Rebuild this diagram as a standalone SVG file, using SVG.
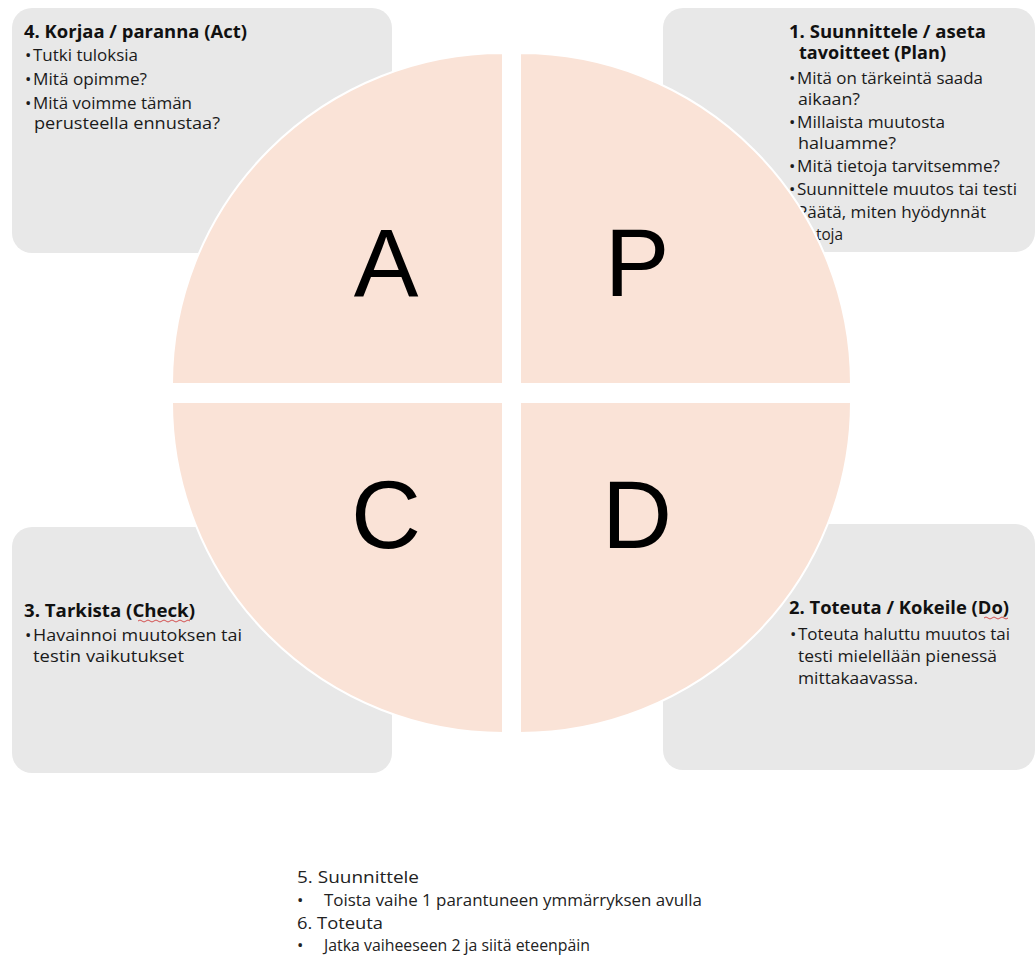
<svg xmlns="http://www.w3.org/2000/svg" width="1036" height="956" viewBox="0 0 1036 956">
<style>
.box{fill:#e8e8e8}
.t{font-family:"Open Sans","Liberation Sans",sans-serif;font-size:17px;fill:#1a1a1a}
.h{font-family:"Open Sans","Liberation Sans",sans-serif;font-size:18px;font-weight:700;fill:#111}
.q{fill:#fae3d7;stroke:#fff;stroke-width:2}
.big{font-family:"Liberation Sans",Arial,sans-serif;font-size:97px;fill:#000;text-anchor:middle}
.b{font-family:"Open Sans","Liberation Sans",sans-serif;font-size:17px;fill:#222}
.sq{fill:none;stroke:#d04040;stroke-width:0.9}
</style>
<rect width="1036" height="956" fill="#fff"/>
<g id="node-act">
<rect class="box" x="12" y="8" width="380" height="245" rx="20"/>
<text class="h" x="24" y="38" textLength="223" lengthAdjust="spacingAndGlyphs">4. Korjaa / paranna (Act)</text>
<text class="t" x="25" y="61">•</text>
<text class="t" x="33" y="61" textLength="105" lengthAdjust="spacingAndGlyphs">Tutki tuloksia</text>
<text class="t" x="25" y="85">•</text>
<text class="t" x="33" y="85" textLength="114" lengthAdjust="spacingAndGlyphs">Mitä opimme?</text>
<text class="t" x="25" y="109">•</text>
<text class="t" x="33" y="109" textLength="159" lengthAdjust="spacingAndGlyphs">Mitä voimme tämän</text>
<text class="t" x="34" y="129" textLength="186" lengthAdjust="spacingAndGlyphs">perusteella ennustaa?</text>
</g>
<g id="node-plan">
<rect class="box" x="663" y="8" width="372" height="244" rx="20"/>
<text class="h" x="789" y="38" textLength="197" lengthAdjust="spacingAndGlyphs">1. Suunnittele / aseta</text>
<text class="h" x="799" y="59" textLength="147" lengthAdjust="spacingAndGlyphs">tavoitteet (Plan)</text>
<text class="t" x="789" y="84">•</text>
<text class="t" x="797" y="84" textLength="186" lengthAdjust="spacingAndGlyphs">Mitä on tärkeintä saada</text>
<text class="t" x="798" y="105" textLength="62" lengthAdjust="spacingAndGlyphs">aikaan?</text>
<text class="t" x="789" y="128">•</text>
<text class="t" x="797" y="128" textLength="148" lengthAdjust="spacingAndGlyphs">Millaista muutosta</text>
<text class="t" x="798" y="149" textLength="98" lengthAdjust="spacingAndGlyphs">haluamme?</text>
<text class="t" x="789" y="172">•</text>
<text class="t" x="797" y="172" textLength="203" lengthAdjust="spacingAndGlyphs">Mitä tietoja tarvitsemme?</text>
<text class="t" x="789" y="195">•</text>
<text class="t" x="797" y="195" textLength="220" lengthAdjust="spacingAndGlyphs">Suunnittele muutos tai testi</text>
<text class="t" x="789" y="218">•</text>
<text class="t" x="797" y="218" textLength="189" lengthAdjust="spacingAndGlyphs">Päätä, miten hyödynnät</text>
<text class="t" x="798" y="240" textLength="45" lengthAdjust="spacingAndGlyphs">tietoja</text>
</g>
<g id="node-check">
<rect class="box" x="12" y="527" width="380" height="246" rx="20"/>
<text class="h" x="24" y="617" textLength="171" lengthAdjust="spacingAndGlyphs">3. Tarkista (Check)</text>
<path class="sq" d="M138,621 q2,-2 4,0 t4,0 t4,0 t4,0 t4,0 t4,0 t4,0 t4,0 t4,0 t4,0 t4,0 t4,0 t4,0"/>
<text class="t" x="25" y="641">•</text>
<text class="t" x="33" y="641" textLength="209" lengthAdjust="spacingAndGlyphs">Havainnoi muutoksen tai</text>
<text class="t" x="33" y="662" textLength="151" lengthAdjust="spacingAndGlyphs">testin vaikutukset</text>
</g>
<g id="node-do">
<rect class="box" x="663" y="524" width="372" height="246" rx="20"/>
<text class="h" x="789" y="614" textLength="220" lengthAdjust="spacingAndGlyphs">2. Toteuta / Kokeile (Do)</text>
<path class="sq" d="M984,618 q2,-2 4,0 t4,0 t4,0 t4,0 t4,0 t4,0"/>
<text class="t" x="790" y="640">•</text>
<text class="t" x="798" y="640" textLength="212" lengthAdjust="spacingAndGlyphs">Toteuta haluttu muutos tai</text>
<text class="t" x="798" y="662" textLength="199" lengthAdjust="spacingAndGlyphs">testi mielellään pienessä</text>
<text class="t" x="798" y="684" textLength="120" lengthAdjust="spacingAndGlyphs">mittakaavassa.</text>
</g>
<g id="quadrant-A">
<path class="q" d="M503,384 L172,384 A331,331 0 0 1 503,53 Z"/>
<text class="big" x="386" y="296">A</text>
</g>
<g id="quadrant-P">
<path class="q" d="M520,384 L520,53 A331,331 0 0 1 851,384 Z"/>
<text class="big" x="637" y="296">P</text>
</g>
<g id="quadrant-D">
<path class="q" d="M520,402 L851,402 A331,331 0 0 1 520,733 Z"/>
<text class="big" x="637" y="548">D</text>
</g>
<g id="quadrant-C">
<path class="q" d="M503,402 L503,733 A331,331 0 0 1 172,402 Z"/>
<text class="big" x="386" y="548">C</text>
</g>
<g id="connectors"></g>
<g id="notes">
<text class="b" x="297" y="883" textLength="122" lengthAdjust="spacingAndGlyphs">5. Suunnittele</text>
<text class="b" x="297" y="906">•</text>
<text class="b" x="324" y="906" textLength="378" lengthAdjust="spacingAndGlyphs">Toista vaihe 1 parantuneen ymmärryksen avulla</text>
<text class="b" x="297" y="929" textLength="86" lengthAdjust="spacingAndGlyphs">6. Toteuta</text>
<text class="b" x="297" y="951">•</text>
<text class="b" x="324" y="951" textLength="266" lengthAdjust="spacingAndGlyphs">Jatka vaiheeseen 2 ja siitä eteenpäin</text>
</g>
</svg>
